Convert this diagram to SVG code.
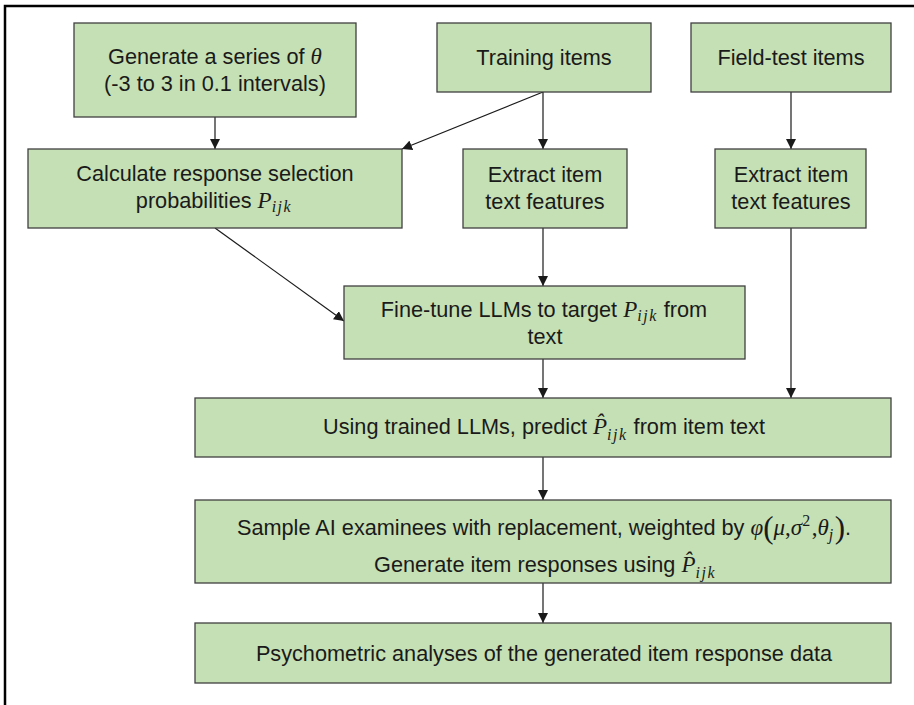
<svg xmlns="http://www.w3.org/2000/svg" width="914" height="705" viewBox="0 0 914 705">
<style>
.box{fill:#c5e0b4;stroke:#404040;stroke-width:1.3}
.t{font-family:"Liberation Sans",Arial,sans-serif;font-size:21.7px;fill:#1a1a1a;text-anchor:middle}
.m{font-family:"Liberation Serif","DejaVu Serif",serif;font-style:italic;font-size:23px}
.s{font-family:"Liberation Serif","DejaVu Serif",serif;font-style:italic;font-size:16px;letter-spacing:1.5px}
.n{font-style:normal}
.p{font-family:"Liberation Serif","DejaVu Serif",serif;font-style:normal;font-size:31px}
.c{stroke:#1a1a1a;stroke-width:1.2;fill:none;marker-end:url(#ah)}
</style>
<defs>
<marker id="ah" viewBox="0 0 10 10" refX="10" refY="5" markerWidth="10" markerHeight="10" markerUnits="userSpaceOnUse" orient="auto">
<path d="M0,0 L10,5 L0,10 z" fill="#1a1a1a"/>
</marker>
</defs>
<rect width="914" height="705" fill="#fff"/>
<path d="M5,705 V6 H914" fill="none" stroke="#000" stroke-width="2.5"/>

<g id="connectors">
<line class="c" x1="215" y1="117" x2="215" y2="149"/>
<line class="c" x1="543" y1="92" x2="402" y2="149"/>
<line class="c" x1="543" y1="92" x2="543" y2="149"/>
<line class="c" x1="791" y1="92" x2="791" y2="149"/>
<line class="c" x1="215" y1="228" x2="344" y2="321"/>
<line class="c" x1="543" y1="228" x2="543" y2="286"/>
<line class="c" x1="543" y1="359" x2="543" y2="398"/>
<line class="c" x1="791" y1="228" x2="791" y2="398"/>
<line class="c" x1="543" y1="457" x2="543" y2="500"/>
<line class="c" x1="543" y1="583" x2="543" y2="623"/>
</g>

<g id="generate">
<rect class="box" x="74" y="23" width="282" height="94"/>
<text class="t" x="215" y="64">Generate a series of <tspan class="m">θ</tspan></text>
<text class="t" x="215" y="91">(-3 to 3 in 0.1 intervals)</text>
</g>

<g id="training">
<rect class="box" x="437" y="23" width="214" height="69"/>
<text class="t" x="544" y="65">Training items</text>
</g>

<g id="fieldtest">
<rect class="box" x="691" y="23" width="200" height="69"/>
<text class="t" x="791" y="65">Field-test items</text>
</g>

<g id="calculate">
<rect class="box" x="28" y="149" width="374" height="79"/>
<text class="t" x="215" y="181">Calculate response selection</text>
<text class="t" x="214" y="208">probabilities <tspan class="m">P</tspan><tspan class="s" dy="4">ijk</tspan></text>
</g>

<g id="extract1">
<rect class="box" x="463" y="149" width="164" height="79"/>
<text class="t" x="545" y="182">Extract item</text>
<text class="t" x="545" y="209">text features</text>
</g>

<g id="extract2">
<rect class="box" x="715" y="149" width="151" height="79"/>
<text class="t" x="791" y="182">Extract item</text>
<text class="t" x="791" y="209">text features</text>
</g>

<g id="finetune">
<rect class="box" x="344" y="286" width="401" height="73"/>
<text class="t" x="544" y="317">Fine-tune LLMs to target <tspan class="m">P</tspan><tspan class="s" dy="4">ijk</tspan><tspan dy="-4"> from</tspan></text>
<text class="t" x="545" y="344">text</text>
</g>

<g id="predict">
<rect class="box" x="195" y="398" width="696" height="59"/>
<text class="t" x="544" y="434">Using trained LLMs, predict <tspan class="m">P̂</tspan><tspan class="s" dy="6">ijk</tspan><tspan dy="-6"> from item text</tspan></text>
</g>

<g id="sample">
<rect class="box" x="195" y="500" width="696" height="83"/>
<text class="t" x="544" y="535">Sample AI examinees with replacement, weighted by <tspan class="m">φ</tspan><tspan class="p" dy="3">(</tspan><tspan class="m" dy="-3">μ</tspan><tspan class="m n">,</tspan><tspan class="m">σ</tspan><tspan class="s n" dy="-9">2</tspan><tspan class="m n" dy="9">,</tspan><tspan class="m">θ</tspan><tspan class="s" dy="5">j</tspan><tspan class="p" dy="-2">)</tspan><tspan dy="-3">.</tspan></text>
<text class="t" x="545" y="572">Generate item responses using <tspan class="m">P̂</tspan><tspan class="s" dy="6">ijk</tspan></text>
</g>

<g id="psychometric">
<rect class="box" x="195" y="623" width="696" height="60"/>
<text class="t" x="544" y="661">Psychometric analyses of the generated item response data</text>
</g>
</svg>
